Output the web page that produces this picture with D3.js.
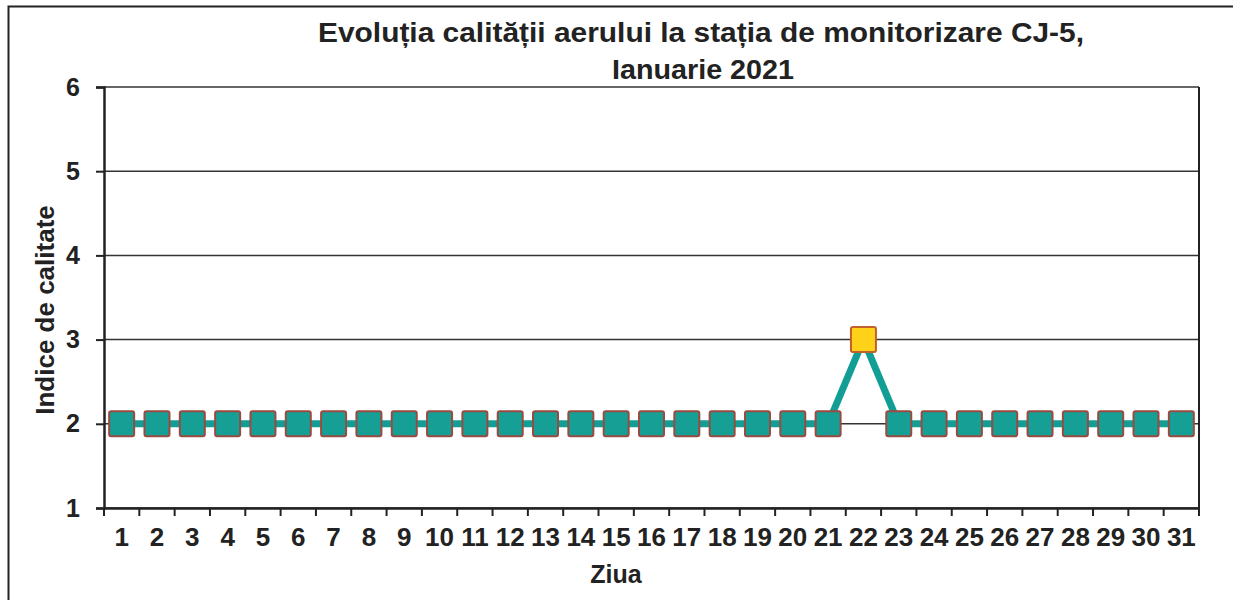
<!DOCTYPE html>
<html>
<head>
<meta charset="utf-8">
<script src="https://cdn.jsdelivr.net/npm/d3@7"></script>
<style>
  body { margin: 0; background: #fff; }
  text { font-family: "Liberation Sans", Arial, sans-serif; font-weight: bold; fill: #222; }
</style>
</head>
<body>
<div id="chart"></div>
<script>
// Days of January 2021 and the daily air quality index
const days = d3.range(1, 32).map(String);
const indexValues = [2, 2, 2, 2, 2, 2, 2, 2, 2, 2, 2, 2, 2, 2, 2, 2, 2, 2, 2, 2, 2, 3, 2, 2, 2, 2, 2, 2, 2, 2, 2];
const yTicks = [1, 2, 3, 4, 5, 6];

const data = days.map((d, i) => ({ day: d, value: indexValues[i] }));

const W = 1233, H = 600;
const margin = { top: 87, right: 34, bottom: 92, left: 104 },
      width = W - margin.left - margin.right,
      height = H - margin.top - margin.bottom;

const svgRoot = d3.select("#chart").append("svg")
    .attr("width", W)
    .attr("height", H);

// Outer frame
svgRoot.append("rect")
    .attr("x", 8.5).attr("y", 6.5)
    .attr("width", 1240).attr("height", 620)
    .attr("fill", "none").attr("stroke", "#222").attr("stroke-width", 2);

const svg = svgRoot.append("g")
    .attr("transform", `translate(${margin.left},${margin.top})`);

// Scales
const x = d3.scaleBand()
    .domain(days)
    .range([0, width]);

const y = d3.scaleLinear()
    .domain([1, 6])
    .range([height, 0]);

// Gridlines
svg.append("g")
    .selectAll("line")
    .data(yTicks)
    .enter()
    .append("line")
    .attr("x1", 0).attr("x2", width)
    .attr("y1", d => y(d)).attr("y2", d => y(d))
    .attr("stroke", "#333").attr("stroke-width", 1.5);

// Right border of plot area
svg.append("line")
    .attr("x1", width).attr("x2", width)
    .attr("y1", 0).attr("y2", height)
    .attr("stroke", "#222").attr("stroke-width", 2);

// Y axis
const yAxis = svg.append("g")
    .call(d3.axisLeft(y).tickValues(yTicks).tickFormat(d3.format("d")).tickSize(8).tickPadding(16));
yAxis.select(".domain").attr("stroke", "#222").attr("stroke-width", 2.5);
yAxis.selectAll(".tick line").attr("stroke", "#222").attr("stroke-width", 2);
yAxis.selectAll("text").style("font-size", "25px").style("font-weight", "bold").attr("fill", "#222");

// X axis (ticks between categories)
const xAxis = svg.append("g")
    .attr("transform", `translate(0,${height})`)
    .call(d3.axisBottom(x).tickSize(0).tickPadding(20));
xAxis.select(".domain").attr("stroke", "#222").attr("stroke-width", 2.5);
xAxis.selectAll("text").style("font-size", "26px").style("font-weight", "bold").attr("fill", "#222");

svg.append("g")
    .attr("transform", `translate(0,${height})`)
    .selectAll("line")
    .data(days.concat(["end"]))
    .enter()
    .append("line")
    .attr("x1", (d, i) => i * x.bandwidth())
    .attr("x2", (d, i) => i * x.bandwidth())
    .attr("y1", 0).attr("y2", 8)
    .attr("stroke", "#222").attr("stroke-width", 2);

// Line segments between consecutive days
const cx = d => x(d.day) + x.bandwidth() / 2;
const segs = d3.pairs(data);
svg.append("g")
    .selectAll("line")
    .data(segs)
    .enter()
    .append("line")
    .attr("x1", d => cx(d[0])).attr("y1", d => y(d[0].value))
    .attr("x2", d => cx(d[1])).attr("y2", d => y(d[1].value))
    .attr("stroke", "#139e95")
    .attr("stroke-width", 7);

// Square markers
const size = 25;
svg.append("g")
    .selectAll("rect")
    .data(data)
    .enter()
    .append("rect")
    .attr("x", d => cx(d) - size / 2)
    .attr("y", d => y(d.value) - size / 2)
    .attr("width", size).attr("height", size)
    .attr("rx", 2)
    .attr("fill", d => d.value >= 3 ? "#ffd21a" : "#16a095")
    .attr("stroke", d => d.value >= 3 ? "#c0602a" : "#9a4a40")
    .attr("stroke-width", 2);

// Title
const title = svgRoot.append("text")
    .attr("text-anchor", "middle")
    .style("font-size", "28px");
title.append("tspan").attr("x", 701).attr("y", 42)
    .attr("textLength", 766).attr("lengthAdjust", "spacingAndGlyphs")
    .text("Evoluția calității aerului la stația de monitorizare CJ-5,");
title.append("tspan").attr("x", 703).attr("y", 79)
    .attr("textLength", 182).attr("lengthAdjust", "spacingAndGlyphs")
    .text("Ianuarie 2021");

// X axis label
svgRoot.append("text")
    .attr("x", 616)
    .attr("y", 583)
    .attr("text-anchor", "middle")
    .style("font-size", "25px")
    .text("Ziua");

// Y axis label
svgRoot.append("text")
    .attr("transform", "rotate(-90)")
    .attr("x", -310)
    .attr("y", 54)
    .attr("text-anchor", "middle")
    .style("font-size", "26px")
    .text("Indice de calitate");
</script>
</body>
</html>
